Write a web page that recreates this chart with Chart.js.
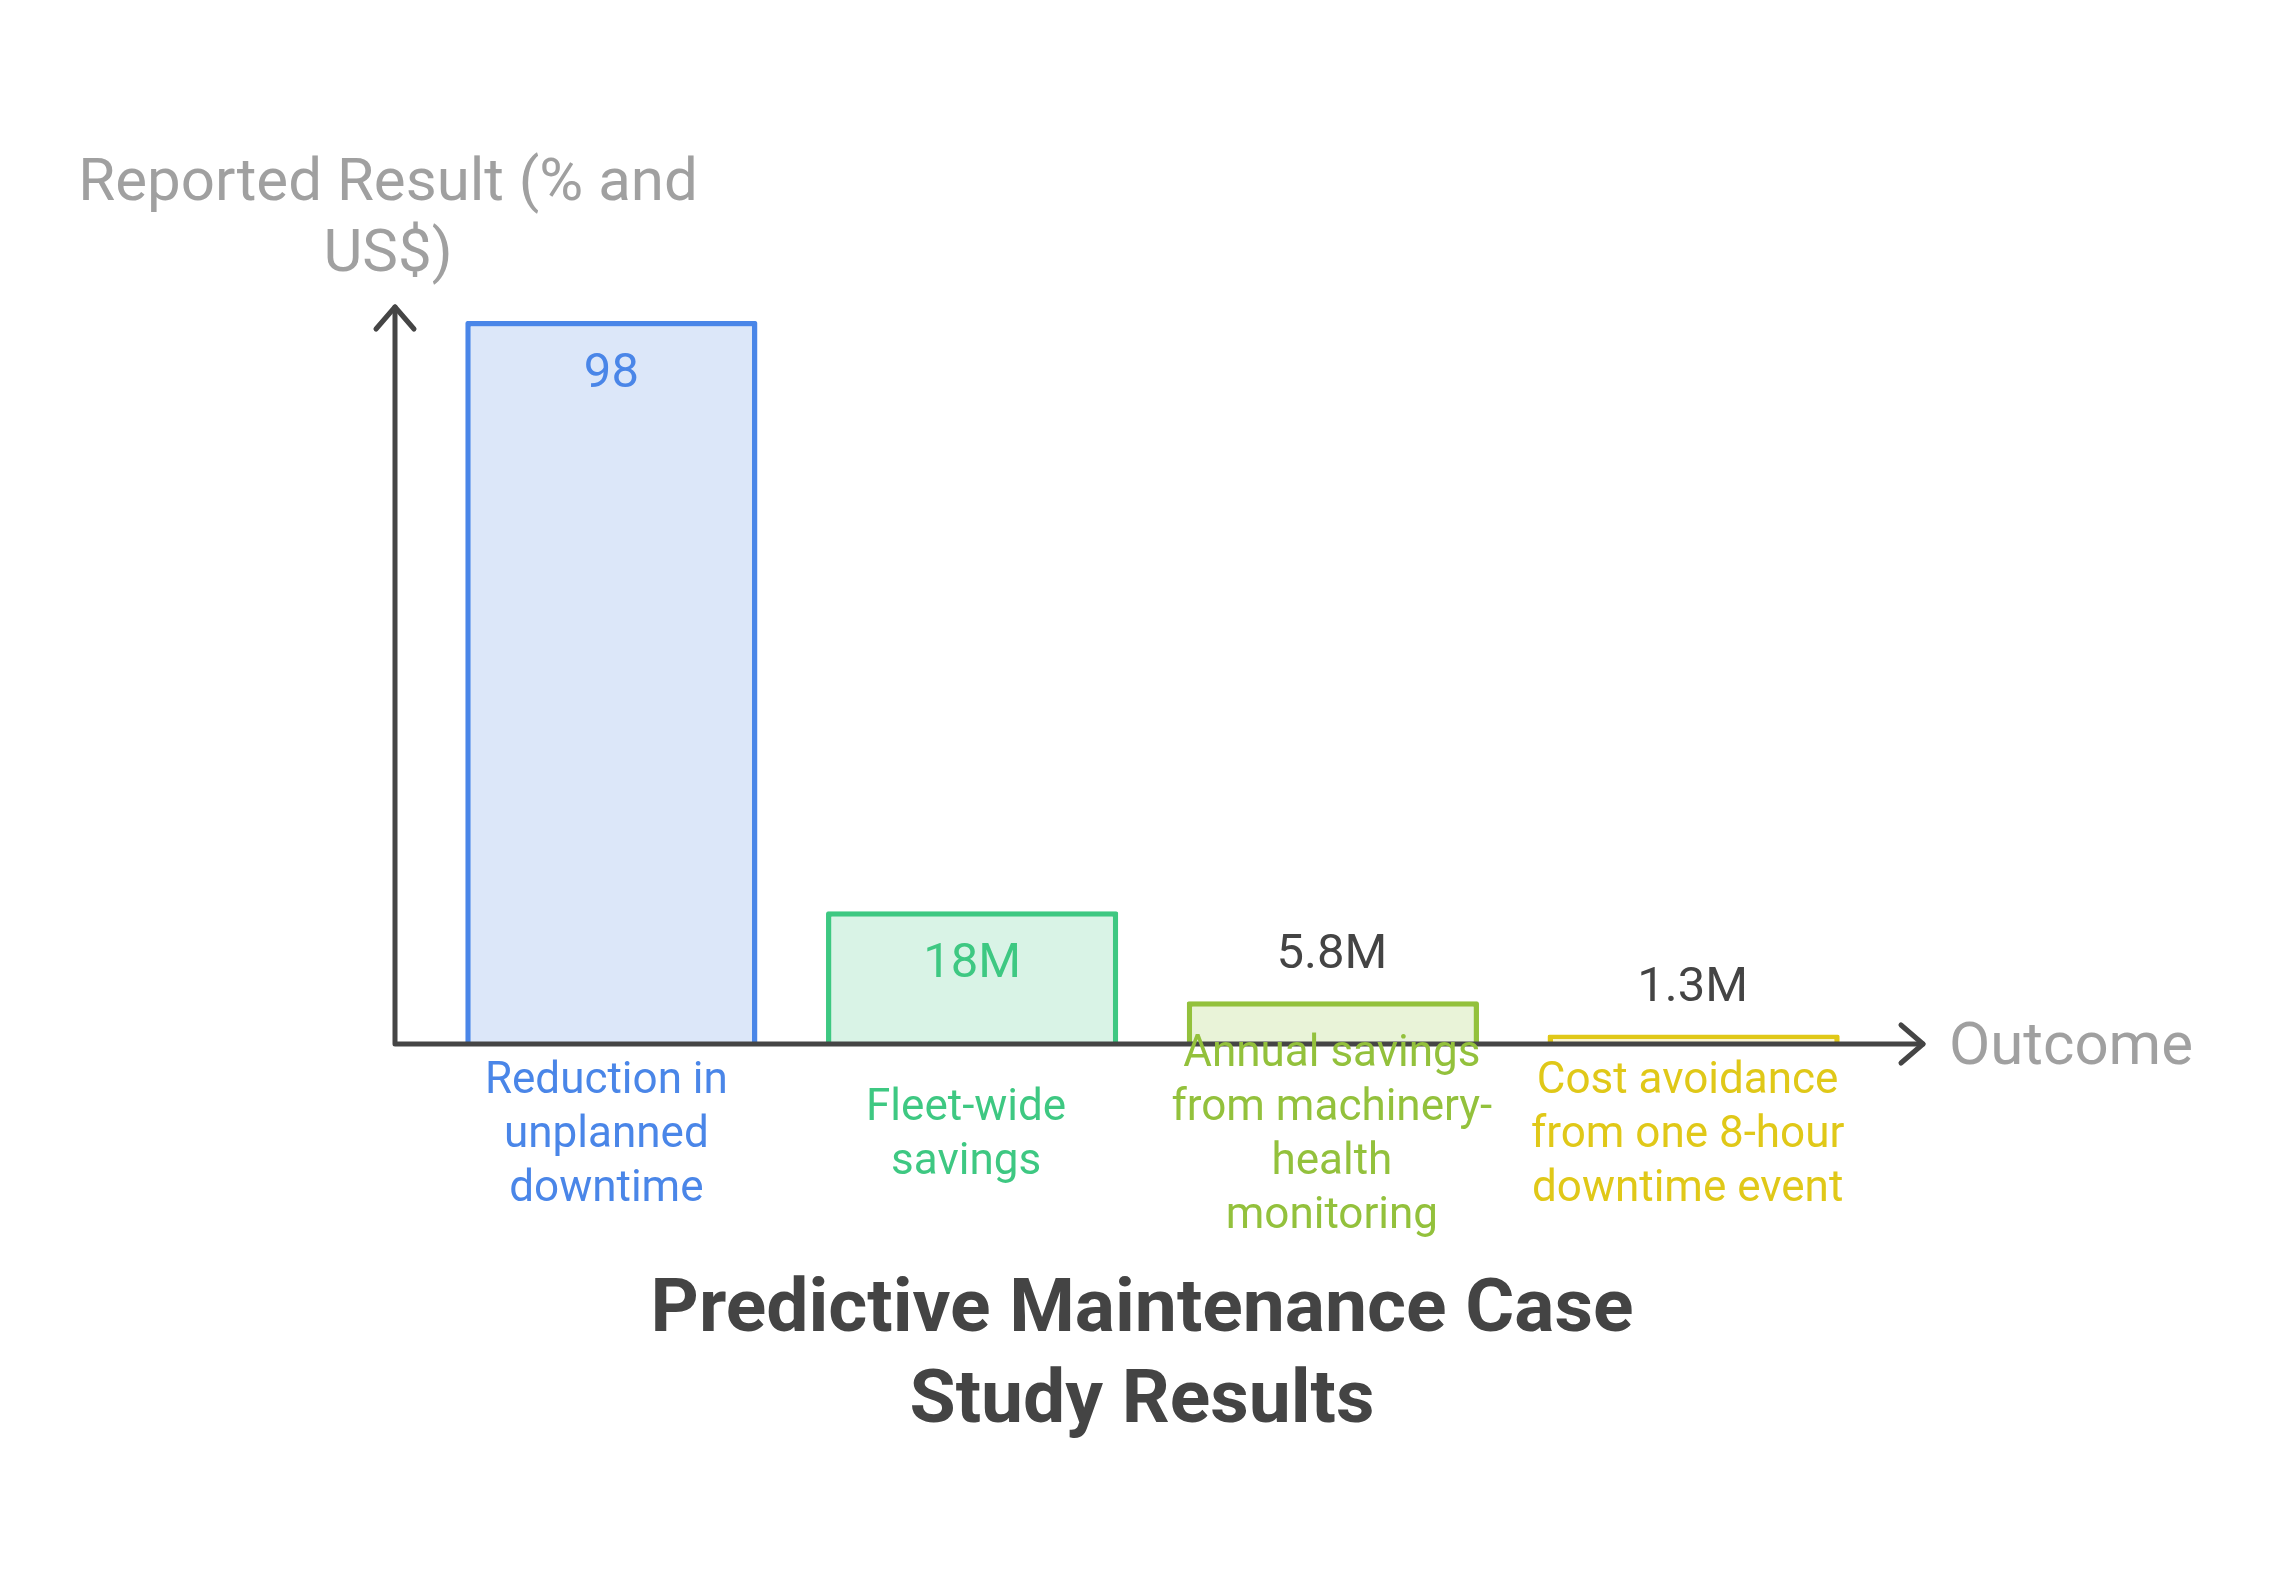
<!DOCTYPE html>
<html>
<head>
<meta charset="utf-8">
<style>
  html, body { margin: 0; padding: 0; background: #fff; }
  #wrap { width: 2272px; height: 1585px; }
</style>
<script src="https://cdn.jsdelivr.net/npm/chart.js@4.4.1/dist/chart.umd.min.js"></script>
</head>
<body>
<div id="wrap"><canvas id="grafica" width="2272" height="1585"></canvas></div>
<script>
// datos
const categorias = [
  ['Reduction in', 'unplanned', 'downtime'],
  ['Fleet-wide', 'savings'],
  ['Annual savings', 'from machinery-', 'health', 'monitoring'],
  ['Cost avoidance', 'from one 8-hour', 'downtime event'],
];
const valores = [98, 18, 5.8, 1.3];
const etiquetasValor = ['98', '18M', '5.8M', '1.3M'];
const bordes = ['#4a86e8', '#3ec882', '#93c13c', '#e0c818'];
const rellenos = ['#dce7f9', '#d9f3e6', '#e9f3d8', '#fcf6d2'];
const tituloEjeY = ['Reported Result (% and', 'US$)'];
const tituloEjeX = 'Outcome';
const titulo = ['Predictive Maintenance Case', 'Study Results'];

const FUENTE = 'Roboto, "Noto Sans", sans-serif';
const GRIS_EJE = '#454545';

function flecha(ctx, x, y, dx, dy) {
  // dx,dy: direccion de la punta
  const largo = 22, ancho = 19;
  ctx.beginPath();
  ctx.moveTo(x - dx * largo - dy * ancho, y - dy * largo - dx * ancho);
  ctx.lineTo(x, y);
  ctx.lineTo(x - dx * largo + dy * ancho, y - dy * largo + dx * ancho);
  ctx.stroke();
}

const dibujoExtra = {
  id: 'dibujoExtra',
  afterDatasetsDraw(chart) {
    const ctx = chart.ctx;
    const area = chart.chartArea;
    const xs = chart.scales.x;
    const ys = chart.scales.y;
    const ejeX = ys.getPixelForValue(0);
    const ejeY = area.left - 36;
    const finX = area.right + 49;
    const finY = area.top - 14;

    ctx.save();
    // ejes
    ctx.strokeStyle = GRIS_EJE;
    ctx.lineWidth = 5;
    ctx.lineCap = 'round';
    ctx.lineJoin = 'round';
    ctx.beginPath();
    ctx.moveTo(ejeY, finY);
    ctx.lineTo(ejeY, ejeX);
    ctx.lineTo(finX, ejeX);
    ctx.stroke();
    flecha(ctx, ejeY, finY, 0, -1);
    flecha(ctx, finX, ejeX, 1, 0);

    // titulos de ejes
    ctx.fillStyle = '#a0a0a0';
    ctx.font = '60px ' + FUENTE;
    ctx.textAlign = 'center';
    ctx.textBaseline = 'alphabetic';
    tituloEjeY.forEach((l, i) => ctx.fillText(l, ejeY - 7, 200 + i * 71));
    ctx.textAlign = 'left';
    ctx.fillText(tituloEjeX, finX + 26, ejeX + 20);

    // etiquetas de valor
    const meta = chart.getDatasetMeta(0);
    ctx.textAlign = 'center';
    ctx.font = '49px ' + FUENTE;
    meta.data.forEach((bar, i) => {
      const alto = bar.base - bar.y;
      if (alto > 100) {
        ctx.fillStyle = bordes[i];
        ctx.fillText(etiquetasValor[i], bar.x, bar.y + 66);
      } else {
        ctx.fillStyle = '#444444';
        ctx.fillText(etiquetasValor[i], bar.x - 1, bar.y - 33);
      }
    });

    // etiquetas de categoria, centradas en vertical
    ctx.font = '44px ' + FUENTE;
    const ajusteX = [-5, -6, -1, -6];
    categorias.forEach((lineas, i) => {
      const cx = xs.getPixelForValue(i) + ajusteX[i];
      ctx.fillStyle = bordes[i];
      lineas.forEach((l, j) => {
        ctx.fillText(l, cx, ejeX + 103 + (j - (lineas.length - 1) / 2) * 54);
      });
    });

    // titulo
    ctx.fillStyle = '#444444';
    ctx.font = 'bold 75px ' + FUENTE;
    titulo.forEach((l, i) => ctx.fillText(l, 1142, 1331 + i * 91));
    ctx.restore();
  },
};

function dibujar() {
  const canvas = document.getElementById('grafica');
  new Chart(canvas, {
    type: 'bar',
    data: {
      labels: categorias.map(c => c.join(' ')),
      datasets: [{
        data: valores,
        backgroundColor: rellenos,
        borderColor: bordes,
        borderWidth: 5.5,
        borderSkipped: 'bottom',
        borderRadius: 2,
        barPercentage: 0.81,
        categoryPercentage: 1,
      }],
    },
    options: {
      responsive: false,
      animation: false,
      devicePixelRatio: 1,
      layout: { padding: { left: 431, right: 398, top: 321, bottom: 541 } },
      plugins: { legend: { display: false }, tooltip: { enabled: false } },
      scales: {
        x: { display: false },
        y: { display: false, min: 0, max: 98 },
      },
    },
    plugins: [dibujoExtra],
  });
}

if (document.fonts && document.fonts.load) {
  Promise.all([
    document.fonts.load('60px Roboto'),
    document.fonts.load('bold 75px Roboto'),
  ]).then(dibujar, dibujar);
} else {
  dibujar();
}
</script>
</body>
</html>
